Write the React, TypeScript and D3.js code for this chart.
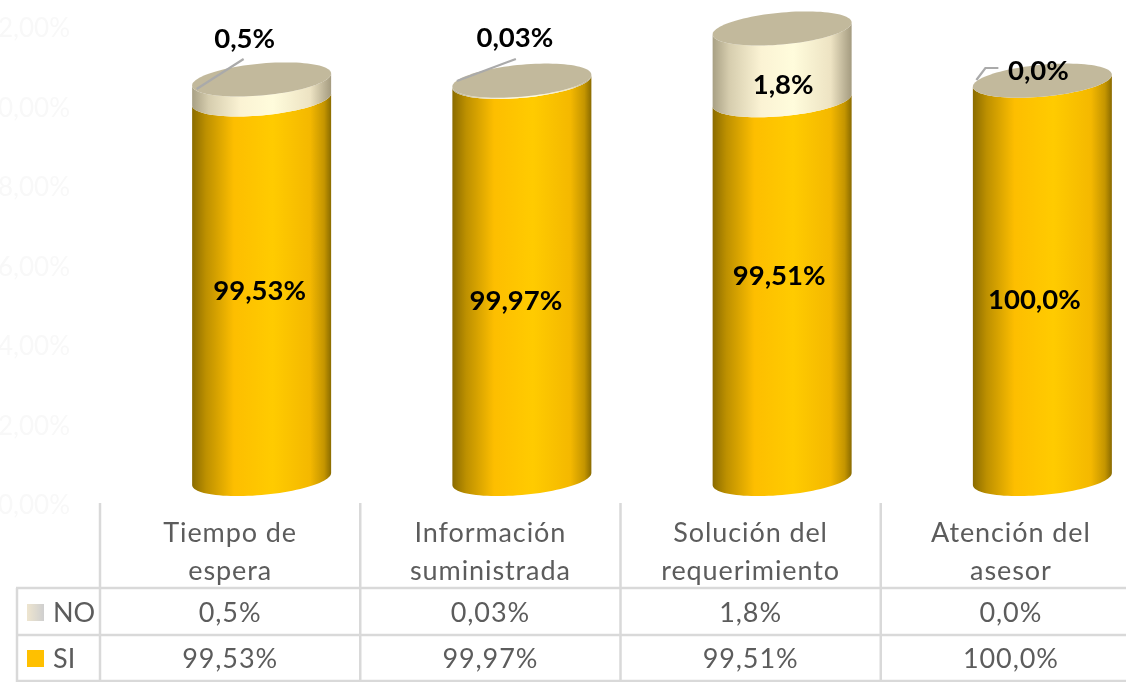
import React from "react";
import * as d3 from "d3";

const categories = [
  ["Tiempo de", "espera"],
  ["Información", "suministrada"],
  ["Solución del", "requerimiento"],
  ["Atención del", "asesor"],
];
const siValues = [99.53, 99.97, 99.51, 100.0];
const noValues = [0.5, 0.03, 1.8, 0.0];
const siLabels = ["99,53%", "99,97%", "99,51%", "100,0%"];
const noLabels = ["0,5%", "0,03%", "1,8%", "0,0%"];
const axisTicks = [90, 92, 94, 96, 98, 100, 102];

// Placement of hand-moved labels and leaders, relative to each bar's centre
const siLabelOffset = [[-2, 1], [-6, 20], [-3, -14], [-8, 20]];
const noLabelPos = [[-17, 38], [-7, 37], [1, 84], [-4, 70]];
const leaders: number[][][] = [
  [[-65, 89], [-18, 59]],
  [[-65, 81], [-6, 59]],
  [],
  [[-66, 80], [-57, 68], [-44, 68]],
];

const W = 1126, H = 682;
const x = d3.scaleBand<number>().domain(d3.range(4)).range([100, 1141]);
const y = d3.scaleLinear().domain([90, 102]).range([479, 1]);
const yAxis = d3.scaleLinear().domain([90, 102]).range([505, 28]);
const pct = d3.formatLocale({ decimal: ",", thousands: ".", grouping: [3], currency: ["", ""] }).format(".2f");

const DX = 31.5, RX = 69.5, RY = 16, SH = 6;
const cx = (i: number) => x(i)! + x.bandwidth() / 2 + DX;
const pt = (c: number, v: number, t: number): [number, number] => [
  c + RX * Math.cos(t),
  y(v) + RY * Math.sin(t) - SH * Math.cos(t),
];
const line = d3.line();
const ts = d3.range(0, 49).map((k) => (k / 48) * Math.PI);
function body(c: number, from: number, to: number) {
  const lower = ts.map((t) => pt(c, from, t));
  const upper = ts.map((t) => pt(c, to, t)).reverse();
  return line([...lower, ...upper]) + "Z";
}
function disc(c: number, v: number) {
  return line(d3.range(0, 96).map((k) => pt(c, v, (k / 96) * 2 * Math.PI))) + "Z";
}

const FONT = "Lato, Carlito, sans-serif";
const GRAY = "#5c5c5c";
const RULE = "#d9d9d9";
const rowY = [613, 659];

export default function App() {
  const rows = [
    { name: "NO", labels: noLabels, fill: "url(#swatchNo)" },
    { name: "SI", labels: siLabels, fill: "#ffc000" },
  ];
  return (
    <svg width={W} height={H} viewBox={`0 0 ${W} ${H}`} style={{ position: "absolute", left: 0, top: 0, background: "#fff" }} fontFamily={FONT}>
      <defs>
        <linearGradient id="si">
          <stop offset="0" stopColor="#8a6b00" />
          <stop offset="0.1" stopColor="#bd9000" />
          <stop offset="0.3" stopColor="#fdbe00" />
          <stop offset="0.58" stopColor="#ffcb00" />
          <stop offset="0.85" stopColor="#f4b800" />
          <stop offset="0.95" stopColor="#c49500" />
          <stop offset="1" stopColor="#8a6b00" />
        </linearGradient>
        <linearGradient id="no">
          <stop offset="0" stopColor="#a8a084" />
          <stop offset="0.12" stopColor="#d6cdae" />
          <stop offset="0.35" stopColor="#fbf3d4" />
          <stop offset="0.58" stopColor="#fffcdc" />
          <stop offset="0.85" stopColor="#ede3c3" />
          <stop offset="1" stopColor="#a49b80" />
        </linearGradient>
        <linearGradient id="swatchNo">
          <stop offset="0" stopColor="#eee5cf" />
          <stop offset="1" stopColor="#cfcfcf" />
        </linearGradient>
        <filter id="soft" x="-2%" y="-2%" width="104%" height="104%">
          <feGaussianBlur stdDeviation="0.45" />
        </filter>
      </defs>
      <g filter="url(#soft)">
        {axisTicks.map((t) => (
          <text key={t} x={70} y={yAxis(t)} dy="0.35em" textAnchor="end" fontSize={26} fill="#f8f8f8">
            {pct(t)}%
          </text>
        ))}

        {categories.map((_, i) => {
          const c = cx(i);
          const si = siValues[i];
          const top = si + noValues[i];
          return (
            <g key={i}>
              <path d={body(c, 90, si)} fill="url(#si)" />
              {noValues[i] > 0 && <path d={body(c, si, top)} fill="url(#no)" />}
              <path d={disc(c, top)} fill="#c2b99c" />
              {leaders[i].length > 0 && (
                <path d={line(leaders[i].map(([dx, py]) => [c + dx, py] as [number, number]))!} fill="none" stroke="#aaaaaa" strokeWidth={2.2} />
              )}
              <text x={c + noLabelPos[i][0]} y={noLabelPos[i][1]} dy="0.35em" textAnchor="middle" fontSize={27.5} fontWeight={700} fill="#000">
                {noLabels[i]}
              </text>
              <text x={c + siLabelOffset[i][0]} y={(y(90) + y(si)) / 2 + siLabelOffset[i][1]} dy="0.35em" textAnchor="middle" fontSize={27.5} fontWeight={700} fill="#000">
                {siLabels[i]}
              </text>
            </g>
          );
        })}

        {/* data table */}
        <g stroke={RULE} strokeWidth={2.5}>
          {d3.range(5).map((k) => {
            const px = 100 + k * x.step();
            return <line key={k} x1={px} x2={px} y1={503} y2={682} />;
          })}
          <line x1={17} x2={17} y1={588} y2={682} />
          {[588, 635, 681].map((py) => (
            <line key={py} x1={16} x2={W} y1={py} y2={py} />
          ))}
        </g>
        {categories.map((lines, i) => (
          <g key={i} fontSize={27} fill={GRAY} textAnchor="middle" letterSpacing={0.9}>
            <text x={x(i)! + x.bandwidth() / 2} y={533} dy="0.35em">{lines[0]}</text>
            <text x={x(i)! + x.bandwidth() / 2} y={571} dy="0.35em">{lines[1]}</text>
          </g>
        ))}
        {rows.map((r, ri) => (
          <g key={r.name}>
            <rect x={27} y={rowY[ri] - 9} width={17} height={17} fill={r.fill} />
            <text x={53} y={rowY[ri]} dy="0.35em" fontSize={27} fill={GRAY}>{r.name}</text>
            {r.labels.map((l, i) => (
              <text key={i} x={x(i)! + x.bandwidth() / 2} y={rowY[ri]} dy="0.35em" textAnchor="middle" fontSize={27} fill={GRAY} letterSpacing={0.9}>
                {l}
              </text>
            ))}
          </g>
        ))}
      </g>
    </svg>
  );
}
